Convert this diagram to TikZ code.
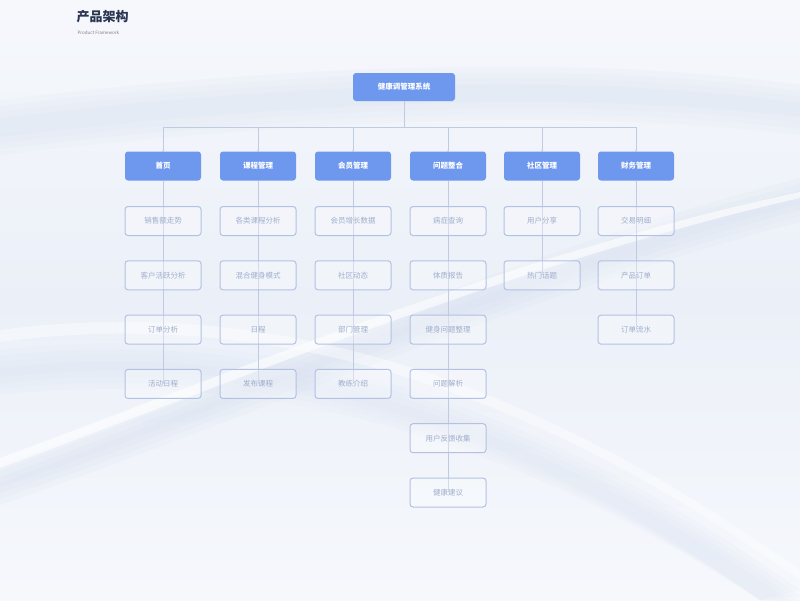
\documentclass[tikz,border=0pt]{standalone}
\usepackage{fontspec}
\setmainfont{Noto Sans CJK SC}
\usetikzlibrary{positioning}
\definecolor{bgc}{HTML}{EBF0F8}
\definecolor{bgtop}{HTML}{F6F8FC}
\definecolor{headc}{HTML}{6E97EE}
\definecolor{boxline}{HTML}{B3C1E2}
\definecolor{boxtext}{HTML}{A0AECD}
\definecolor{linec}{HTML}{C0CBE2}
\definecolor{swoosh}{HTML}{D6DFF0}
\definecolor{titlec}{HTML}{2A3550}
\tikzset{
  rootbox/.style={draw=none, fill=headc, rounded corners=3pt, minimum width=102pt, minimum height=28pt, text=white, font=\fontsize{7.5}{9}\selectfont\bfseries},
  headbox/.style={draw=none, fill=headc, rounded corners=3pt, minimum width=76pt, minimum height=29pt, text=white, font=\fontsize{7.5}{9}\selectfont\bfseries},
  childbox/.style={draw=boxline, line width=1pt, fill=white, fill opacity=0.3, text opacity=1, rounded corners=3pt, minimum width=76pt, minimum height=29pt, text=boxtext, font=\fontsize{7.5}{9}\selectfont},
  conn/.style={draw=linec, line width=0.7pt},
  dotc/.style={circle, fill=linec, inner sep=0pt, minimum size=2.2pt}
}
\begin{document}
\begin{tikzpicture}[x=1pt,y=-1pt]
\useasboundingbox (0,0) rectangle (800,600);
\shade[top color=bgtop, bottom color=bgc] (0,0) rectangle (800,300);
\shade[top color=bgc, bottom color=bgtop] (0,300) rectangle (800,600);
% background swooshes
\foreach \o in {0,6,12,18}{
  \fill[swoosh, opacity=0.12] (0,100+\o) .. controls (250,70+\o) and (550,50+\o) .. (800,85+\o) -- (800,135-\o) .. controls (550,105-\o) and (250,125-\o) .. (0,155-\o) -- cycle;
  \fill[swoosh, opacity=0.15] (0,465+\o) .. controls (250,375+\o) and (500,255+\o) .. (800,178+\o) -- (800,222-\o) .. controls (520,295-\o) and (260,415-\o) .. (0,505-\o) -- cycle;
  \fill[swoosh, opacity=0.1] (0,350+\o) .. controls (300,315+\o) and (560,420+\o) .. (800,590+\o) -- (760,600) .. controls (520,445-\o) and (280,365-\o) .. (0,395-\o) -- cycle;
}
\fill[white, opacity=0.6] (0,458) .. controls (260,362) and (520,252) .. (800,192) -- (800,198) .. controls (520,262) and (260,372) .. (0,468) -- cycle;
\fill[white, opacity=0.4] (0,330) .. controls (300,290) and (560,400) .. (800,570) -- (800,580) .. controls (560,410) and (300,302) .. (0,342) -- cycle;
% title
\node[anchor=west, text=titlec, font=\fontsize{13}{15}\selectfont\bfseries] (title) at (73,17) {产品架构};
\node[anchor=west, text=gray, font=\fontsize{4.5}{5}\selectfont] (subtitle) at (74,33) {Product Framework};
% root
\node[rootbox] (root) at (404,87) {健康调管理系统};
% headers
\foreach \n/\x/\t in {h1/163/首页, h2/258/课程管理, h3/353/会员管理, h4/448/问题整合, h5/542/社区管理, h6/636/财务管理}{
  \node[headbox] (\n) at (\x,166) {\t};
}
\coordinate (bus) at (404,127);
\draw[conn] (root.south) -- (bus);
\draw[conn] (h1.north |- bus) -- (h6.north |- bus);
\foreach \n in {h1,h2,h3,h4,h5,h6}{
  \draw[conn] (\n.north |- bus) -- (\n.north);
  \node[dotc] at (\n.north) {};
}
\newcommand{\colitems}[3]{%
  \foreach \t [count=\i] in {#3}{
    \pgfmathsetmacro{\yy}{221+54.3*(\i-1)}
    \node[childbox] (#1c\i) at (#2,\yy) {\t};
  }
}
\draw[conn] (163,181) -- (163,384);
\draw[conn] (258,181) -- (258,384);
\draw[conn] (353,181) -- (353,384);
\draw[conn] (448,181) -- (448,492);
\draw[conn] (542,181) -- (542,275);
\draw[conn] (636,181) -- (636,330);
\colitems{a}{163}{销售额走势,客户活跃分析,订单分析,活动日程}
\colitems{b}{258}{各类课程分析,混合健身模式,日程,发布课程}
\colitems{c}{353}{会员增长数据,社区动态,部门管理,教练介绍}
\colitems{d}{448}{病症查询,体质报告,健身问题整理,问题解析,用户反馈收集,健康建议}
\colitems{e}{542}{用户分享,热门话题}
\colitems{f}{636}{交易明细,产品订单,订单流水}
\end{tikzpicture}
\end{document}
